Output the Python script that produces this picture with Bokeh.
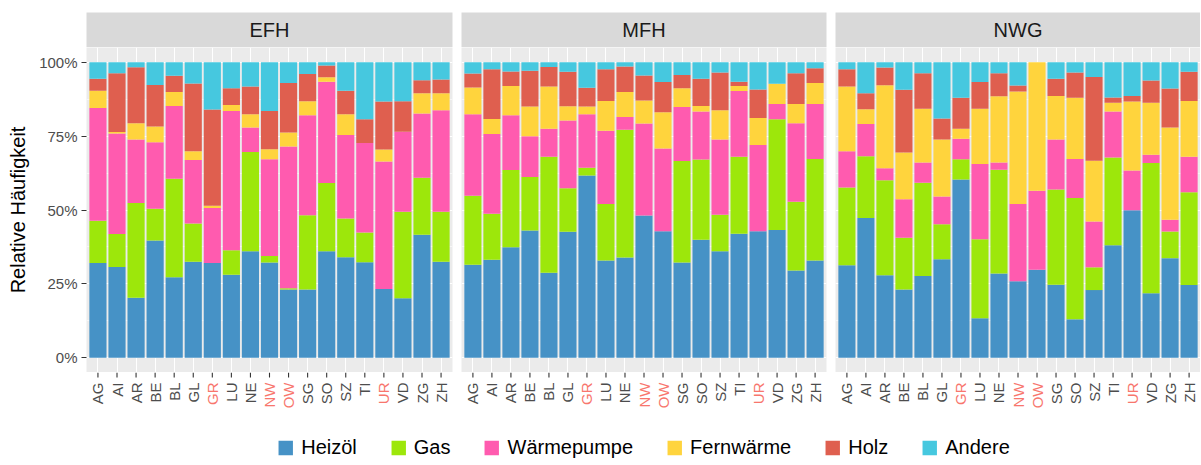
import math
from bokeh.plotting import figure
from bokeh.models import (Range1d, FixedTicker, NumeralTickFormatter, ColumnDataSource,
                          Label, Legend, LegendItem)
from bokeh.layouts import column, row
from bokeh.embed import file_html
from bokeh.resources import INLINE
from bokeh.core.properties import value

# ---------------- data (shares in %) ----------------
cantons = ["AG", "AI", "AR", "BE", "BL", "GL", "GR", "LU", "NE", "NW",
           "OW", "SG", "SO", "SZ", "TI", "UR", "VD", "ZG", "ZH"]
highlight = ["GR", "NW", "OW", "UR"]
facets = ["EFH", "MFH", "NWG"]
types = ["Heizöl", "Gas", "Wärmepumpe", "Fernwärme", "Holz", "Andere"]
colors = ["#4692C6", "#9DE70B", "#FF5BAF", "#FFD43D", "#DF5F4F", "#46C8DF"]

efh_heizoel = [32.1, 30.7, 20.3, 39.7, 27.2, 32.5, 32.1, 28.1, 36.0, 32.2, 23.1, 23.1, 36.0, 34.0, 32.3, 23.3, 20.1, 41.6, 32.5]
efh_gas     = [14.3, 11.2, 32.1, 10.7, 33.4, 12.9, 0.0, 8.3, 33.6, 2.2, 0.4, 25.1, 23.1, 13.1, 10.1, 0.0, 29.3, 19.3, 16.9]
efh_wp      = [38.1, 34.0, 21.5, 22.5, 24.6, 21.5, 18.6, 47.1, 8.3, 32.8, 48.0, 33.9, 34.3, 28.3, 30.3, 43.1, 27.1, 21.8, 34.4]
efh_fw      = [5.9, 0.5, 5.5, 5.4, 4.7, 3.0, 0.7, 2.0, 4.5, 3.4, 4.7, 4.7, 1.5, 7.0, 0.0, 4.1, 0.0, 6.8, 5.7]
efh_holz    = [4.0, 19.9, 18.9, 14.0, 5.5, 22.9, 32.6, 5.7, 9.4, 12.9, 16.8, 9.2, 4.0, 8.0, 8.0, 16.2, 10.3, 4.4, 4.7]
efh_andere  = [5.6, 3.7, 1.7, 7.7, 4.6, 7.2, 16.0, 8.8, 8.2, 16.5, 7.0, 4.0, 1.1, 9.6, 19.3, 13.3, 13.2, 6.1, 5.8]

mfh_heizoel = [31.5, 33.2, 37.4, 43.1, 28.8, 42.6, 61.7, 32.9, 33.9, 48.1, 42.8, 32.2, 39.9, 36.0, 42.0, 42.8, 43.2, 29.5, 32.9]
mfh_gas     = [23.3, 15.5, 26.1, 18.1, 39.2, 14.8, 2.6, 19.1, 43.3, 0.0, 0.0, 34.4, 27.2, 12.4, 26.0, 0.0, 37.5, 23.3, 34.4]
mfh_wp      = [27.6, 27.0, 18.6, 13.8, 9.5, 22.9, 18.1, 24.8, 4.3, 31.2, 28.0, 18.3, 16.2, 25.5, 22.3, 29.2, 5.2, 26.6, 18.6]
mfh_fw      = [9.1, 5.1, 9.9, 10.0, 14.3, 4.8, 2.6, 10.1, 8.4, 7.8, 12.3, 6.3, 1.9, 9.9, 1.7, 9.1, 6.8, 6.5, 7.1]
mfh_holz    = [4.7, 16.8, 4.9, 12.1, 6.6, 11.7, 6.4, 10.7, 8.7, 8.4, 10.2, 4.5, 9.2, 12.7, 1.4, 9.7, 0.0, 10.4, 5.0]
mfh_andere  = [3.8, 2.4, 3.1, 2.9, 1.6, 3.2, 8.6, 2.4, 1.4, 4.5, 6.7, 4.3, 5.6, 3.5, 6.6, 9.2, 7.3, 3.7, 2.0]

nwg_heizoel = [31.3, 47.3, 27.9, 23.1, 27.7, 33.3, 60.3, 13.4, 28.5, 25.9, 29.8, 24.7, 13.0, 22.9, 38.1, 49.9, 21.8, 33.7, 24.6]
nwg_gas     = [26.3, 20.9, 32.2, 17.5, 31.5, 11.9, 6.9, 26.7, 35.1, 0.0, 0.0, 32.2, 41.1, 7.7, 29.7, 0.0, 44.1, 9.0, 31.4]
nwg_wp      = [12.3, 10.9, 4.0, 13.0, 6.9, 9.4, 6.9, 25.5, 2.5, 26.1, 26.7, 17.0, 13.2, 15.5, 15.5, 13.5, 2.8, 4.0, 12.0]
nwg_fw      = [21.9, 5.0, 28.1, 15.9, 18.2, 19.3, 3.4, 18.7, 22.4, 38.1, 43.5, 14.7, 20.7, 20.6, 3.0, 23.3, 17.6, 31.2, 18.9]
nwg_holz    = [5.8, 5.4, 6.0, 21.2, 12.0, 7.1, 10.5, 9.0, 7.8, 2.0, 0.0, 5.8, 8.5, 28.3, 1.8, 1.9, 7.5, 13.2, 9.9]
nwg_andere  = [2.4, 10.5, 1.8, 9.3, 3.7, 19.0, 12.0, 6.7, 3.7, 7.9, 0.0, 5.6, 3.5, 5.0, 11.9, 11.4, 6.2, 8.9, 3.2]

data = {
    "EFH": [efh_heizoel, efh_gas, efh_wp, efh_fw, efh_holz, efh_andere],
    "MFH": [mfh_heizoel, mfh_gas, mfh_wp, mfh_fw, mfh_holz, mfh_andere],
    "NWG": [nwg_heizoel, nwg_gas, nwg_wp, nwg_fw, nwg_holz, nwg_andere],
}

# ---------------- layout constants ----------------
FONT = "Liberation Sans"
PANEL_H = 325
STRIP_H = 35
LABEL_H = 58
TOP = 12
TICK_OUT = 5
STANDOFF = 5
n = len(cantons)
xs = list(range(1, n + 1))


def base_fig(fw, fh, first, last, **kw):
    return figure(frame_width=fw, frame_height=fh,
                  toolbar_location=None, output_backend="svg",
                  min_border_left=86 if first else 0, min_border_right=0 if last else 9,
                  outline_line_color=None, border_fill_color="white", **kw)


def make_column(name, first, last, fw):
    # ---- strip ----
    s = base_fig(fw, STRIP_H, first, last, min_border_top=TOP, min_border_bottom=0,
                 x_range=Range1d(0, 1), y_range=Range1d(0, 1),
                 x_axis_location=None, y_axis_location=None,
                 background_fill_color="#D9D9D9")
    s.grid.visible = False
    s.add_layout(Label(x=0.5, y=0.5, text=name, text_align="center",
                       text_baseline="middle", text_font=FONT, text_font_size="20px",
                       text_color="#1A1A1A"))

    # ---- panel ----
    xr = Range1d(0.4, n + 0.6)
    p = base_fig(fw, PANEL_H, first, last, min_border_top=0, min_border_bottom=0,
                 x_range=xr, y_range=Range1d(-0.05, 1.05),
                 x_axis_location=None, y_axis_location="left" if first else None,
                 background_fill_color="#EBEBEB")
    src = {"x": xs}
    keys = []
    for i, vals in enumerate(data[name]):
        k = "t%d" % i
        keys.append(k)
        src[k] = [v / 100.0 for v in vals]
    p.vbar_stack(keys, x="x", width=0.9, color=colors, line_color=None,
                 source=ColumnDataSource(src))

    p.xgrid.ticker = FixedTicker(ticks=xs)
    p.xgrid.grid_line_color = "white"
    p.xgrid.grid_line_width = 1.1
    p.ygrid.ticker = FixedTicker(ticks=[0, 0.25, 0.5, 0.75, 1.0],
                                 minor_ticks=[0.125, 0.375, 0.625, 0.875])
    p.ygrid.grid_line_color = "white"
    p.ygrid.grid_line_width = 1.1
    p.ygrid.minor_grid_line_color = "white"
    p.ygrid.minor_grid_line_width = 0.55

    if first:
        ya = p.yaxis[0]
        ya.ticker = FixedTicker(ticks=[0, 0.25, 0.5, 0.75, 1.0])
        ya.formatter = NumeralTickFormatter(format="0%")
        ya.axis_line_color = None
        ya.major_tick_in = 0
        ya.major_tick_out = TICK_OUT
        ya.major_tick_line_color = "#333333"
        ya.minor_tick_line_color = None
        ya.major_label_standoff = 4
        ya.major_label_text_font = FONT
        ya.major_label_text_font_size = "15px"
        ya.major_label_text_color = "#4D4D4D"
        ya.axis_label = "Relative Häufigkeit"
        ya.axis_label_text_font = FONT
        ya.axis_label_text_font_size = "20px"
        ya.axis_label_text_font_style = "normal"
        ya.axis_label_text_color = "black"
        ya.axis_label_standoff = 7

    # ---- x tick marks and labels ----
    lab = base_fig(fw, LABEL_H, first, last, min_border_top=0, min_border_bottom=0,
                   x_range=xr, y_range=Range1d(-LABEL_H, 0),
                   x_axis_location=None, y_axis_location=None,
                   background_fill_color="white")
    lab.grid.visible = False
    lsrc = ColumnDataSource({
        "x": xs,
        "t": cantons,
        "c": ["#F8766D" if c in highlight else "#4D4D4D" for c in cantons],
    })
    lab.segment(x0="x", y0=0, x1="x", y1=-TICK_OUT, line_color="#333333",
                line_width=1.1, source=lsrc)
    lab.text(x="x", y=-(TICK_OUT + STANDOFF), text="t", text_color="c",
             angle=math.pi / 2, text_align="right", text_baseline="middle",
             text_font=value(FONT), text_font_size=value("15px"), source=lsrc)

    return column(s, p, lab, spacing=0)


c1 = make_column("EFH", True, False, 366)
c2 = make_column("MFH", False, False, 365)
c3 = make_column("NWG", False, True, 365)

# legend strip
lf = figure(width=1200, height=34, x_range=Range1d(0, 1), y_range=Range1d(0, 1),
            toolbar_location=None, output_backend="svg",
            x_axis_location=None, y_axis_location=None,
            min_border_left=86, min_border_right=0, min_border_top=0, min_border_bottom=0,
            outline_line_color=None, background_fill_color="white")
lf.grid.visible = False
items = []
for t, c in zip(types, colors):
    r = lf.quad(left=[5], right=[6], top=[6], bottom=[5], fill_color=c, line_color=None)
    items.append(LegendItem(label=t, renderers=[r]))
leg = Legend(items=items, orientation="horizontal", location="center",
             glyph_width=18, glyph_height=18, label_standoff=7, spacing=32,
             label_text_font=FONT, label_text_font_size="20px", label_text_color="black",
             padding=1, margin=0, border_line_color=None, background_fill_alpha=0)
lf.add_layout(leg, "center")

layout = column(row(c1, c2, c3, spacing=0), lf, spacing=0)
open("out.html", "w").write(file_html(layout, INLINE))
